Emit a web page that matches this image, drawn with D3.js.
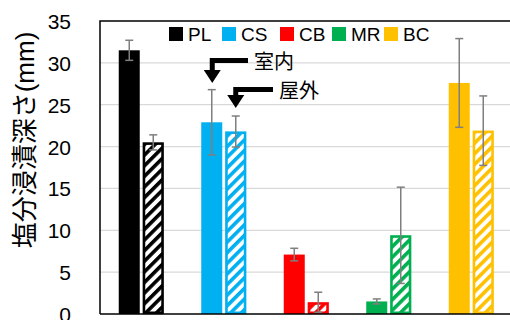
<!DOCTYPE html>
<html>
<head>
<meta charset="utf-8">
<script src="https://cdn.jsdelivr.net/npm/d3@7"></script>
<style>
  body { margin: 0; background: #fff; }
  svg { display: block; font-family: "Liberation Sans", Arial, "Noto Sans CJK JP", sans-serif; }
</style>
</head>
<body>
<div id="chart"></div>
<script>
// data
var groups = ["PL", "CS", "CB", "MR", "BC"];
var colors = ["#000000", "#00b0f0", "#ff0000", "#00b050", "#ffc000"];
var indoor = [31.5, 22.9, 7.1, 1.5, 27.6];      // 室内 (solid)
var indoorErr = [1.2, 3.9, 0.75, 0.3, 5.3];
var outdoor = [20.5, 21.8, 1.4, 9.4, 21.9];     // 屋外 (hatched)
var outdoorErr = [0.9, 1.85, 1.2, 5.75, 4.15];
var yTicks = [0, 5, 10, 15, 20, 25, 30, 35];

var width = 510, height = 320;
var plot = {left: 100, top: 21, right: 512.5, bottom: 314};

var svg = d3.select("#chart").append("svg")
	.attr("width", width)
	.attr("height", height);

var defs = svg.append("defs");
groups.forEach(function(g, i) {
	var p = defs.append("pattern")
		.attr("id", "hatch" + i)
		.attr("patternUnits", "userSpaceOnUse")
		.attr("width", 7.5)
		.attr("height", 7.5)
		.attr("patternTransform", "rotate(45)");
	p.append("rect").attr("width", 7.5).attr("height", 7.5).attr("fill", "#fff");
	p.append("rect").attr("width", 3.6).attr("height", 7.5).attr("fill", colors[i]);
});

var x = d3.scaleBand().domain(groups).range([plot.left, plot.right]);
var y = d3.scaleLinear().domain([0, 35]).range([plot.bottom, plot.top]);

// gridlines
svg.append("g").selectAll("line")
	.data(yTicks.filter(function(d) { return d > 0 && d < 35; }))
	.enter().append("line")
	.attr("x1", plot.left).attr("x2", width)
	.attr("y1", function(d) { return y(d); })
	.attr("y2", function(d) { return y(d); })
	.attr("stroke", "#d9d9d9")
	.attr("stroke-width", 1.3);

// y axis labels
var yAxis = svg.append("g")
	.attr("transform", "translate(71,0)")
	.call(d3.axisLeft(y).tickValues(yTicks).tickSize(0).tickPadding(0));
yAxis.select(".domain").remove();
yAxis.selectAll("text")
	.attr("font-family", null)
	.style("font-size", "21px")
	.attr("dy", "0.36em")
	.attr("fill", "#000");

// y axis title
svg.append("text")
	.attr("transform", "translate(34,140) rotate(-90)")
	.attr("text-anchor", "middle")
	.style("font-size", "26px")
	.text("塩分浸漬深さ(mm)");

// bars
var bars = svg.append("g");
groups.forEach(function(g, i) {
	var c = x(g) + x.bandwidth() / 2;
	bars.append("rect")
		.attr("x", c - 22.5)
		.attr("y", y(indoor[i]))
		.attr("width", 21)
		.attr("height", y(0) - y(indoor[i]))
		.attr("fill", colors[i]);
	bars.append("rect")
		.attr("x", c + 2.7)
		.attr("y", y(outdoor[i]) + 1.2)
		.attr("width", 18.6)
		.attr("height", Math.max(0, y(0) - y(outdoor[i]) - 2.4))
		.attr("fill", "url(#hatch" + i + ")")
		.attr("stroke", colors[i])
		.attr("stroke-width", 2.6);
});

// error bars
function errBar(cx, v, e) {
	var g = svg.append("g").attr("stroke", "#7f7f7f").attr("stroke-width", 1.5);
	g.append("line").attr("x1", cx).attr("x2", cx).attr("y1", y(v + e)).attr("y2", y(v - e));
	g.append("line").attr("x1", cx - 4).attr("x2", cx + 4).attr("y1", y(v + e)).attr("y2", y(v + e));
	g.append("line").attr("x1", cx - 4).attr("x2", cx + 4).attr("y1", y(v - e)).attr("y2", y(v - e));
}
groups.forEach(function(g, i) {
	var c = x(g) + x.bandwidth() / 2;
	errBar(c - 12, indoor[i], indoorErr[i]);
	errBar(c + 12, outdoor[i], outdoorErr[i]);
});

// frame
svg.append("path")
	.attr("d", "M" + plot.left + "," + y(0) + "V" + plot.top + "H" + width)
	.attr("fill", "none").attr("stroke", "#000").attr("stroke-width", 1.5);
svg.append("line")
	.attr("x1", plot.left).attr("x2", width)
	.attr("y1", y(0)).attr("y2", y(0))
	.attr("stroke", "#000").attr("stroke-width", 1.5);

// legend
var legendX = [169, 222, 280, 332, 384];
var legend = svg.append("g");
groups.forEach(function(g, i) {
	legend.append("rect")
		.attr("x", legendX[i]).attr("y", 27)
		.attr("width", 14).attr("height", 14)
		.attr("fill", colors[i]);
	legend.append("text")
		.attr("x", legendX[i] + 19).attr("y", 41)
		.style("font-size", "19px")
		.text(g);
});

// annotations 室内 / 屋外
function arrow(x0, xt, yh, ytip, label) {
	svg.append("path")
		.attr("d", "M" + x0 + "," + yh + "H" + xt + "V" + (ytip - 12))
		.attr("fill", "none").attr("stroke", "#000").attr("stroke-width", 5);
	svg.append("path")
		.attr("d", "M" + (xt - 8.5) + "," + (ytip - 13) + "L" + (xt + 8.5) + "," + (ytip - 13) + "L" + xt + "," + ytip + "Z")
		.attr("fill", "#000");
	svg.append("text")
		.attr("x", x0 + 6).attr("y", yh + 8)
		.style("font-size", "20px")
		.text(label);
}
var csC = x("CS") + x.bandwidth() / 2;
arrow(248, csC - 11.5, 60.5, 83, "室内");
arrow(273, csC + 12, 89.5, 108, "屋外");
</script>
</body>
</html>
